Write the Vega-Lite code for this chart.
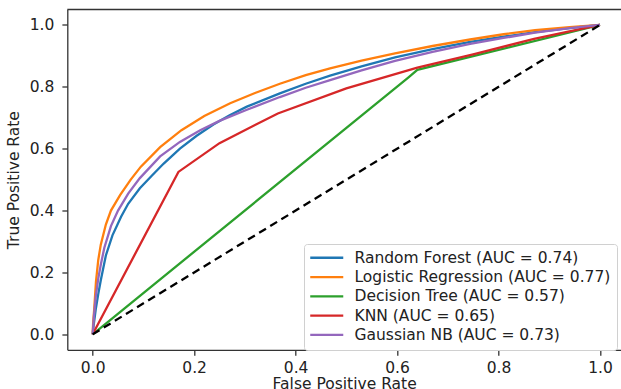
{
  "$schema": "https://vega.github.io/schema/vega-lite/v6.json",
  "width": 553.7,
  "height": 340.3,
  "autosize": {"type": "none"},
  "padding": {"left": 67.3, "top": 9.5, "right": 0, "bottom": 39.2},
  "config": {
    "font": "DejaVu Sans",
    "view": {"stroke": null},
    "axis": {
      "grid": false,
      "domainColor": "#333",
      "domainWidth": 1.3,
      "tickColor": "#333",
      "tickWidth": 1.3,
      "tickSize": 5.4,
      "labelFontSize": 15.5,
      "labelColor": "#222",
      "labelPadding": 3,
      "titleFontSize": 15.5,
      "titleFontWeight": "normal",
      "titleColor": "#222"
    }
  },
  "datasets": {
    "roc": [
      {"model": "Random Forest (AUC = 0.74)", "fpr": 0, "tpr": 0},
      {"model": "Random Forest (AUC = 0.74)", "fpr": 0.002, "tpr": 0.03},
      {"model": "Random Forest (AUC = 0.74)", "fpr": 0.006, "tpr": 0.08},
      {"model": "Random Forest (AUC = 0.74)", "fpr": 0.011, "tpr": 0.13},
      {"model": "Random Forest (AUC = 0.74)", "fpr": 0.016, "tpr": 0.175},
      {"model": "Random Forest (AUC = 0.74)", "fpr": 0.026, "tpr": 0.255},
      {"model": "Random Forest (AUC = 0.74)", "fpr": 0.039, "tpr": 0.32},
      {"model": "Random Forest (AUC = 0.74)", "fpr": 0.056, "tpr": 0.38},
      {"model": "Random Forest (AUC = 0.74)", "fpr": 0.07, "tpr": 0.422},
      {"model": "Random Forest (AUC = 0.74)", "fpr": 0.093, "tpr": 0.472},
      {"model": "Random Forest (AUC = 0.74)", "fpr": 0.116, "tpr": 0.512},
      {"model": "Random Forest (AUC = 0.74)", "fpr": 0.14, "tpr": 0.552},
      {"model": "Random Forest (AUC = 0.74)", "fpr": 0.172, "tpr": 0.6},
      {"model": "Random Forest (AUC = 0.74)", "fpr": 0.205, "tpr": 0.642},
      {"model": "Random Forest (AUC = 0.74)", "fpr": 0.238, "tpr": 0.678},
      {"model": "Random Forest (AUC = 0.74)", "fpr": 0.27, "tpr": 0.708},
      {"model": "Random Forest (AUC = 0.74)", "fpr": 0.304, "tpr": 0.736},
      {"model": "Random Forest (AUC = 0.74)", "fpr": 0.369, "tpr": 0.779},
      {"model": "Random Forest (AUC = 0.74)", "fpr": 0.42, "tpr": 0.81},
      {"model": "Random Forest (AUC = 0.74)", "fpr": 0.468, "tpr": 0.836},
      {"model": "Random Forest (AUC = 0.74)", "fpr": 0.53, "tpr": 0.866},
      {"model": "Random Forest (AUC = 0.74)", "fpr": 0.596, "tpr": 0.895},
      {"model": "Random Forest (AUC = 0.74)", "fpr": 0.67, "tpr": 0.922},
      {"model": "Random Forest (AUC = 0.74)", "fpr": 0.744, "tpr": 0.945},
      {"model": "Random Forest (AUC = 0.74)", "fpr": 0.81, "tpr": 0.962},
      {"model": "Random Forest (AUC = 0.74)", "fpr": 0.872, "tpr": 0.977},
      {"model": "Random Forest (AUC = 0.74)", "fpr": 0.94, "tpr": 0.99},
      {"model": "Random Forest (AUC = 0.74)", "fpr": 1, "tpr": 1},

      {"model": "Logistic Regression (AUC = 0.77)", "fpr": 0, "tpr": 0},
      {"model": "Logistic Regression (AUC = 0.77)", "fpr": 0.001, "tpr": 0.04},
      {"model": "Logistic Regression (AUC = 0.77)", "fpr": 0.003, "tpr": 0.08},
      {"model": "Logistic Regression (AUC = 0.77)", "fpr": 0.0065, "tpr": 0.17},
      {"model": "Logistic Regression (AUC = 0.77)", "fpr": 0.011, "tpr": 0.24},
      {"model": "Logistic Regression (AUC = 0.77)", "fpr": 0.016, "tpr": 0.29},
      {"model": "Logistic Regression (AUC = 0.77)", "fpr": 0.026, "tpr": 0.355},
      {"model": "Logistic Regression (AUC = 0.77)", "fpr": 0.036, "tpr": 0.4},
      {"model": "Logistic Regression (AUC = 0.77)", "fpr": 0.054, "tpr": 0.45},
      {"model": "Logistic Regression (AUC = 0.77)", "fpr": 0.075, "tpr": 0.5},
      {"model": "Logistic Regression (AUC = 0.77)", "fpr": 0.095, "tpr": 0.542},
      {"model": "Logistic Regression (AUC = 0.77)", "fpr": 0.133, "tpr": 0.605},
      {"model": "Logistic Regression (AUC = 0.77)", "fpr": 0.175, "tpr": 0.66},
      {"model": "Logistic Regression (AUC = 0.77)", "fpr": 0.22, "tpr": 0.706},
      {"model": "Logistic Regression (AUC = 0.77)", "fpr": 0.271, "tpr": 0.747},
      {"model": "Logistic Regression (AUC = 0.77)", "fpr": 0.32, "tpr": 0.78},
      {"model": "Logistic Regression (AUC = 0.77)", "fpr": 0.369, "tpr": 0.81},
      {"model": "Logistic Regression (AUC = 0.77)", "fpr": 0.42, "tpr": 0.838},
      {"model": "Logistic Regression (AUC = 0.77)", "fpr": 0.468, "tpr": 0.86},
      {"model": "Logistic Regression (AUC = 0.77)", "fpr": 0.53, "tpr": 0.885},
      {"model": "Logistic Regression (AUC = 0.77)", "fpr": 0.596, "tpr": 0.908},
      {"model": "Logistic Regression (AUC = 0.77)", "fpr": 0.67, "tpr": 0.932},
      {"model": "Logistic Regression (AUC = 0.77)", "fpr": 0.744, "tpr": 0.953},
      {"model": "Logistic Regression (AUC = 0.77)", "fpr": 0.81, "tpr": 0.97},
      {"model": "Logistic Regression (AUC = 0.77)", "fpr": 0.872, "tpr": 0.983},
      {"model": "Logistic Regression (AUC = 0.77)", "fpr": 0.94, "tpr": 0.993},
      {"model": "Logistic Regression (AUC = 0.77)", "fpr": 1, "tpr": 1},

      {"model": "Decision Tree (AUC = 0.57)", "fpr": 0, "tpr": 0},
      {"model": "Decision Tree (AUC = 0.57)", "fpr": 0.622, "tpr": 0.83},
      {"model": "Decision Tree (AUC = 0.57)", "fpr": 0.64, "tpr": 0.855},
      {"model": "Decision Tree (AUC = 0.57)", "fpr": 1, "tpr": 1},

      {"model": "KNN (AUC = 0.65)", "fpr": 0, "tpr": 0},
      {"model": "KNN (AUC = 0.65)", "fpr": 0.169, "tpr": 0.525},
      {"model": "KNN (AUC = 0.65)", "fpr": 0.25, "tpr": 0.618},
      {"model": "KNN (AUC = 0.65)", "fpr": 0.365, "tpr": 0.714},
      {"model": "KNN (AUC = 0.65)", "fpr": 0.5, "tpr": 0.795},
      {"model": "KNN (AUC = 0.65)", "fpr": 0.64, "tpr": 0.862},
      {"model": "KNN (AUC = 0.65)", "fpr": 0.75, "tpr": 0.905},
      {"model": "KNN (AUC = 0.65)", "fpr": 0.87, "tpr": 0.955},
      {"model": "KNN (AUC = 0.65)", "fpr": 1, "tpr": 1},

      {"model": "Gaussian NB (AUC = 0.73)", "fpr": 0, "tpr": 0},
      {"model": "Gaussian NB (AUC = 0.73)", "fpr": 0.002, "tpr": 0.05},
      {"model": "Gaussian NB (AUC = 0.73)", "fpr": 0.006, "tpr": 0.12},
      {"model": "Gaussian NB (AUC = 0.73)", "fpr": 0.011, "tpr": 0.18},
      {"model": "Gaussian NB (AUC = 0.73)", "fpr": 0.016, "tpr": 0.225},
      {"model": "Gaussian NB (AUC = 0.73)", "fpr": 0.023, "tpr": 0.28},
      {"model": "Gaussian NB (AUC = 0.73)", "fpr": 0.036, "tpr": 0.35},
      {"model": "Gaussian NB (AUC = 0.73)", "fpr": 0.05, "tpr": 0.4},
      {"model": "Gaussian NB (AUC = 0.73)", "fpr": 0.07, "tpr": 0.455},
      {"model": "Gaussian NB (AUC = 0.73)", "fpr": 0.093, "tpr": 0.505},
      {"model": "Gaussian NB (AUC = 0.73)", "fpr": 0.133, "tpr": 0.575},
      {"model": "Gaussian NB (AUC = 0.73)", "fpr": 0.172, "tpr": 0.622},
      {"model": "Gaussian NB (AUC = 0.73)", "fpr": 0.212, "tpr": 0.66},
      {"model": "Gaussian NB (AUC = 0.73)", "fpr": 0.25, "tpr": 0.69},
      {"model": "Gaussian NB (AUC = 0.73)", "fpr": 0.304, "tpr": 0.726},
      {"model": "Gaussian NB (AUC = 0.73)", "fpr": 0.369, "tpr": 0.767},
      {"model": "Gaussian NB (AUC = 0.73)", "fpr": 0.42, "tpr": 0.797},
      {"model": "Gaussian NB (AUC = 0.73)", "fpr": 0.468, "tpr": 0.822},
      {"model": "Gaussian NB (AUC = 0.73)", "fpr": 0.53, "tpr": 0.853},
      {"model": "Gaussian NB (AUC = 0.73)", "fpr": 0.596, "tpr": 0.884},
      {"model": "Gaussian NB (AUC = 0.73)", "fpr": 0.67, "tpr": 0.913},
      {"model": "Gaussian NB (AUC = 0.73)", "fpr": 0.744, "tpr": 0.939},
      {"model": "Gaussian NB (AUC = 0.73)", "fpr": 0.81, "tpr": 0.958},
      {"model": "Gaussian NB (AUC = 0.73)", "fpr": 0.872, "tpr": 0.975},
      {"model": "Gaussian NB (AUC = 0.73)", "fpr": 0.94, "tpr": 0.99},
      {"model": "Gaussian NB (AUC = 0.73)", "fpr": 1, "tpr": 1}
    ],
    "diag": [
      {"fpr": 0, "tpr": 0},
      {"fpr": 1, "tpr": 1}
    ],
    "spine": [
      {"top": 1.05}
    ]
  },
  "layer": [
    {
      "data": {"name": "spine"},
      "mark": {"type": "rule", "color": "#333", "strokeWidth": 1.3},
      "encoding": {
        "y": {"field": "top", "type": "quantitative", "scale": {"domain": [-0.05, 1.05], "nice": false, "zero": false}}
      }
    },
    {
      "data": {"name": "roc"},
      "mark": {"type": "line", "strokeWidth": 2.3},
      "encoding": {
        "x": {
          "field": "fpr", "type": "quantitative",
          "scale": {"domain": [-0.05, 1.0414], "nice": false, "zero": false},
          "axis": {"title": "False Positive Rate", "values": [0, 0.2, 0.4, 0.6, 0.8, 1.0], "format": ".1f", "labelPadding": 5, "titlePadding": 1}
        },
        "y": {
          "field": "tpr", "type": "quantitative",
          "scale": {"domain": [-0.05, 1.05], "nice": false, "zero": false},
          "axis": {"title": "True Positive Rate", "values": [0, 0.2, 0.4, 0.6, 0.8, 1.0], "format": ".1f", "labelPadding": 8, "titlePadding": 8}
        },
        "order": {"field": "fpr", "type": "quantitative"},
        "color": {
          "field": "model", "type": "nominal",
          "scale": {
            "domain": ["Random Forest (AUC = 0.74)", "Logistic Regression (AUC = 0.77)", "Decision Tree (AUC = 0.57)", "KNN (AUC = 0.65)", "Gaussian NB (AUC = 0.73)"],
            "range": ["#1f77b4", "#ff7f0e", "#2ca02c", "#d62728", "#9467bd"]
          },
          "legend": {
            "title": null,
            "orient": "none",
            "legendX": 236.7,
            "legendY": 234.5,
            "symbolType": "M-5,0H5",
            "symbolSize": 43.6,
            "symbolStrokeWidth": 2.3,
            "symbolOffset": 9,
            "labelFontSize": 15.5,
            "labelColor": "#222",
            "labelOffset": 20,
            "labelLimit": 400,
            "rowPadding": 2.3,
            "padding": 6,
            "strokeColor": "#d0d0d0",
            "fillColor": "white",
            "cornerRadius": 3
          }
        }
      }
    },
    {
      "data": {"name": "diag"},
      "mark": {"type": "line", "color": "black", "strokeWidth": 2.3, "strokeDash": [8, 5]},
      "encoding": {
        "x": {"field": "fpr", "type": "quantitative"},
        "y": {"field": "tpr", "type": "quantitative"}
      }
    }
  ]
}
